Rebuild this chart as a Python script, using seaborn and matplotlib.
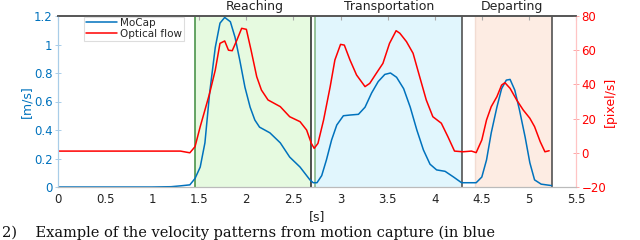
import matplotlib
matplotlib.use("Agg")
import matplotlib.pyplot as plt
import seaborn as sns

# MoCap speed [m/s]
mocap_t = [0, 0.5, 1.0, 1.2, 1.3, 1.4, 1.455, 1.51, 1.56, 1.61, 1.67, 1.72, 1.77, 1.83, 1.88,
           1.93, 1.985, 2.04, 2.09, 2.14, 2.25, 2.36, 2.46, 2.57, 2.675, 2.71, 2.75, 2.80, 2.85,
           2.905, 2.96, 3.03, 3.10, 3.19, 3.26, 3.33, 3.40, 3.47, 3.53, 3.595, 3.67, 3.74, 3.81,
           3.88, 3.95, 4.02, 4.11, 4.20, 4.285, 4.36, 4.44, 4.50, 4.55, 4.60, 4.66, 4.71, 4.76,
           4.80, 4.85, 4.90, 4.96, 5.01, 5.06, 5.13, 5.24]
mocap_v = [0, 0, 0, 0.002, 0.008, 0.015, 0.06, 0.14, 0.31, 0.66, 0.98, 1.15, 1.19, 1.16, 1.05,
           0.89, 0.70, 0.56, 0.47, 0.42, 0.38, 0.31, 0.21, 0.14, 0.05, 0.03, 0.03, 0.08, 0.19,
           0.33, 0.435, 0.50, 0.505, 0.51, 0.56, 0.66, 0.74, 0.79, 0.80, 0.77, 0.69, 0.56, 0.40,
           0.26, 0.16, 0.12, 0.11, 0.07, 0.03, 0.03, 0.03, 0.07, 0.19, 0.38, 0.56, 0.69, 0.75,
           0.755, 0.68, 0.54, 0.35, 0.17, 0.05, 0.02, 0.01]

# Optical flow [pixel/s]
flow_t = [0, 0.5, 1.0, 1.3, 1.4, 1.455, 1.51, 1.56, 1.61, 1.67, 1.72, 1.77, 1.81, 1.85, 1.90,
          1.95, 2.00, 2.05, 2.11, 2.16, 2.23, 2.36, 2.46, 2.57, 2.64, 2.69, 2.72, 2.76, 2.82,
          2.89, 2.94, 3.00, 3.04, 3.10, 3.17, 3.26, 3.31, 3.38, 3.45, 3.52, 3.59, 3.63, 3.70,
          3.77, 3.84, 3.91, 3.98, 4.07, 4.14, 4.21, 4.30, 4.39, 4.44, 4.50, 4.55, 4.60, 4.66,
          4.71, 4.745, 4.80, 4.87, 4.94, 5.01, 5.06, 5.12, 5.17, 5.215]
flow_v = [1, 1, 1, 1, 0, 3.6, 15.3, 25, 34.8, 48.4, 64, 65.4, 60, 59.7, 66,
          72.8, 72.2, 60, 44.5, 36.7, 30.9, 27, 21.1, 18.2, 13.3, 5.5, 2.6, 5.5, 19.2,
          38.7, 54.3, 63.4, 63, 54.3, 45.5, 38.7, 40.6, 46.5, 52.3, 64, 71.4, 69.9, 65,
          58.2, 44.5, 30.9, 21.1, 17.3, 9.4, 1.0, 0.6, 1.0, 0.1, 7.5, 19.2, 27, 32.8,
          39.6, 41, 37.7, 30.9, 25, 20.2, 15.3, 6.5, 0.6, 1.2]

# phases
phase_names = ["Reaching", "Transportation", "Departing"]
phase_start = [1.455, 2.725, 4.43]
phase_end = [2.685, 4.29, 5.25]
phase_label_x = [2.085, 3.52, 4.82]

x_ticks = [0, 0.5, 1, 1.5, 2, 2.5, 3, 3.5, 4, 4.5, 5, 5.5]
x_tick_labels = ["0", "0.5", "1", "1.5", "2", "2.5", "3", "3.5", "4", "4.5", "5", "5.5"]
left_ticks = [0, 0.2, 0.4, 0.6, 0.8, 1.0, 1.2]
left_tick_labels = ["0", "0.2", "0.4", "0.6", "0.8", "1", "1.2"]
right_ticks = [-20, 0, 20, 40, 60, 80]

caption = "2)    Example of the velocity patterns from motion capture (in blue"

sns.set_style("white")
plt.rcParams["font.family"] = ["DejaVu Sans"]

blue = "#0072BD"
red = "#FF0000"

fig = plt.figure(figsize=(6.4, 2.4), dpi=100)
ax = fig.add_axes([58 / 640, 1 - 187 / 240, 518 / 640, 171 / 240])

shade = ["#e6fae0", "#e1f6fd", "#fdece3"]
for s, e, c in zip(phase_start, phase_end, shade):
    ax.axvspan(s, e, color=c, lw=0, zorder=0)

# phase boundary lines
ax.axvline(1.455, color="#3d8c3d", lw=1.1, zorder=1)
ax.axvline(2.685, color="#222222", lw=1.1, zorder=1)
ax.axvline(2.725, color="#7fb37f", lw=1.1, zorder=1)
ax.axvline(4.29, color="#444444", lw=1.1, zorder=1)
ax.axvline(4.43, color="#f2dcd2", lw=1.0, zorder=1)
ax.axvline(5.25, color="#444444", lw=1.1, zorder=1)

for name, lx in zip(phase_names, phase_label_x):
    ax.text(lx, 1.018, name, transform=ax.get_xaxis_transform(), ha="center", va="bottom",
            fontsize=9, color="#222222")

sns.lineplot(x=mocap_t, y=mocap_v, ax=ax, color=blue, lw=1.1, estimator=None, sort=False,
             label="MoCap", legend=False)
ax.set_xlim(0, 5.5)
ax.set_ylim(0, 1.2)
ax.set_xticks(x_ticks)
ax.set_xticklabels(x_tick_labels)
ax.set_yticks(left_ticks)
ax.set_yticklabels(left_tick_labels)
ax.set_xlabel("[s]", fontsize=9, color="#222222", labelpad=3)
ax.set_ylabel("[m/s]", fontsize=9, color=blue, labelpad=0)
ax.tick_params(axis="y", colors="#9cc6e6", labelcolor=blue, labelsize=8.5, length=4,
               direction="inout", width=0.6, pad=2)
ax.tick_params(axis="x", colors="#aaaaaa", labelcolor="#222222", labelsize=8.5, length=3,
               direction="in", width=0.8, top=True, pad=4)

ax2 = ax.twinx()
sns.lineplot(x=flow_t, y=flow_v, ax=ax2, color=red, lw=1.1, estimator=None, sort=False,
             label="Optical flow", legend=False)
ax2.set_ylim(-20, 80)
ax2.set_yticks(right_ticks)
ax2.set_ylabel("[pixel/s]", fontsize=9, color=red, labelpad=-2)
ax2.tick_params(axis="y", colors="#ff9999", labelcolor=red, labelsize=8.5, length=4,
                direction="inout", width=0.6, pad=2)

for a in (ax, ax2):
    a.spines["top"].set_color("#555555")
    a.spines["bottom"].set_color("#bbbbbb")
    a.spines["left"].set_color("#a9cde8")
    a.spines["right"].set_color("#ffc4c4")
    for sp in a.spines.values():
        sp.set_linewidth(0.8)
    a.spines["top"].set_linewidth(1.2)

handles = ax.get_lines()[-1:] + ax2.get_lines()[-1:]
leg = ax2.legend(handles, ["MoCap", "Optical flow"], loc="upper left",
                 bbox_to_anchor=(0.05, 1.0), fontsize=7.5, frameon=True, fancybox=False,
                 framealpha=1, edgecolor="#dddddd", borderpad=0.15, handlelength=3.0,
                 handletextpad=0.3, labelspacing=0.1, borderaxespad=0.05)
leg.get_frame().set_linewidth(0.8)

fig.text(2 / 640, 1 - 226 / 240, caption, ha="left", va="top", fontsize=10.5,
         family="DejaVu Serif", color="#111111")

fig.savefig("out.png", dpi=100)
